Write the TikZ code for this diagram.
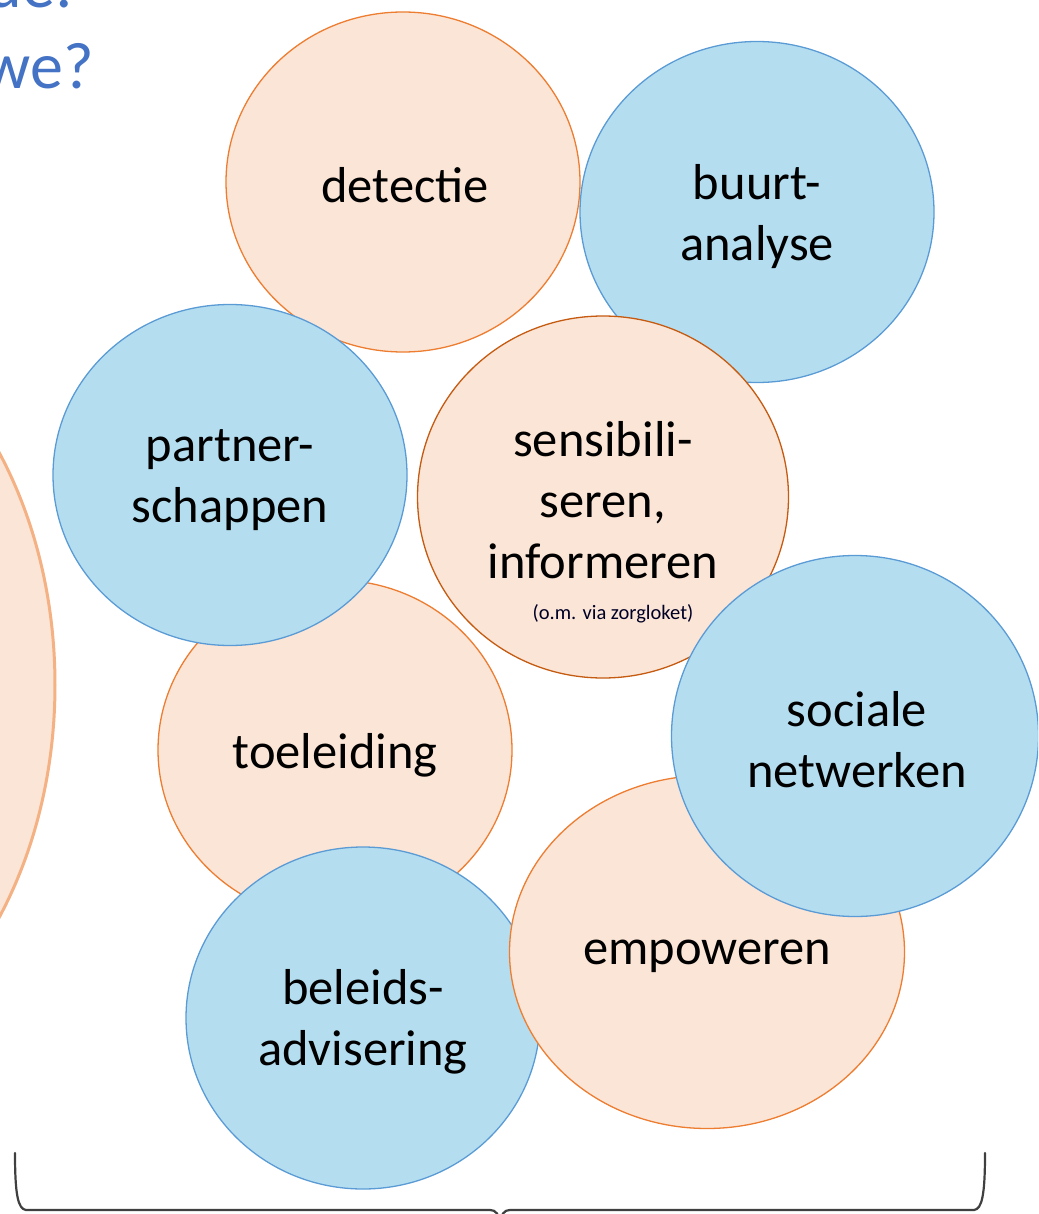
\documentclass[tikz,border=0pt]{standalone}
\usepackage{fontspec}
\setmainfont{Carlito}
\usetikzlibrary{shapes.geometric}
\definecolor{ofill}{HTML}{FBE5D6}
\definecolor{oline}{HTML}{ED7D31}
\definecolor{odark}{HTML}{C55A11}
\definecolor{obig}{HTML}{F4B183}
\definecolor{bfill}{HTML}{B4DEF0}
\definecolor{bline}{HTML}{5B9BD5}
\definecolor{ttl}{HTML}{4472C4}
\definecolor{brc}{HTML}{404040}
\tikzset{
  bub/.style={ellipse, inner sep=0pt, line width=1.3pt},
  obub/.style={bub, fill=ofill, draw=oline},
  bbub/.style={bub, fill=bfill, draw=bline},
  lbl/.style={align=center, font=\fontsize{50.5}{61}\selectfont, text=black},
  small/.style={font=\fontsize{20.5}{24}\selectfont, text=black!85!blue},
  title/.style={font=\fontsize{66}{80}\selectfont, text=ttl, anchor=base east, inner sep=0pt},
  brace/.style={draw=brc, line width=2.2pt, line cap=round}
}
\begin{document}
\begin{tikzpicture}[x=1pt,y=-1pt]
\useasboundingbox (0,0) rectangle (1038,1214);
\clip (0,0) rectangle (1038,1214);
% title fragments
\node[title] (t1) at (73,8) {de:};
\node[title] (t2) at (94,89) {we?};
% big left ellipse
\node[ellipse, inner sep=0pt, fill=ofill, draw=obig, line width=3pt,
      minimum width=600pt, minimum height=800pt] (big) at (-245,685) {};
% bubbles (drawing order matters)
\node[obub, minimum width=354pt, minimum height=340pt] (det) at (403,182) {};
\node[bbub, minimum width=354pt, minimum height=341pt] (buu) at (757,212) {};
\node[obub, draw=odark, minimum width=371pt, minimum height=362pt] (sen) at (603,497) {};
\node[obub, minimum width=354pt, minimum height=340pt] (toe) at (335,750) {};
\node[bbub, minimum width=354pt, minimum height=341pt] (par) at (230,475) {};
\node[bbub, minimum width=354pt, minimum height=342pt] (bel) at (363,1018) {};
\node[obub, minimum width=395pt, minimum height=353pt] (emp) at (707,952) {};
\node[bbub, minimum width=367pt, minimum height=361pt] (soc) at (855,736) {};
% labels
\node[lbl] (ldet) at (405,185) {detectie};
\node[lbl] (lbuu) at (757,217) {buurt-\\analyse};
\node[lbl] (lpar) at (230,480) {partner-\\schappen};
\node[lbl] (lsen) at (603,500) {sensibili-\\seren,\\informeren};
\node[small] (lsen2) at (613,614) {(o.m. via zorgloket)};
\node[lbl] (ltoe) at (335,755) {toeleiding};
\node[lbl] (lsoc) at (857,740) {sociale\\netwerken};
\node[lbl] (lemp) at (707,956) {empoweren};
\node[lbl] (lbel) at (363,1022) {beleids-\\advisering};
% brace
\coordinate (bl) at (15,1153);
\coordinate (br) at (985,1153);
\coordinate (bm) at (500,1225);
\draw[brace] (bl) .. controls (15,1195) and (18,1209) .. (26,1210) -- (490,1210)
  .. controls (496,1210) and (499,1214) .. (bm);
\draw[brace] (br) .. controls (985,1195) and (982,1209) .. (974,1210) -- (510,1210)
  .. controls (504,1210) and (501,1214) .. (bm);
\end{tikzpicture}
\end{document}
